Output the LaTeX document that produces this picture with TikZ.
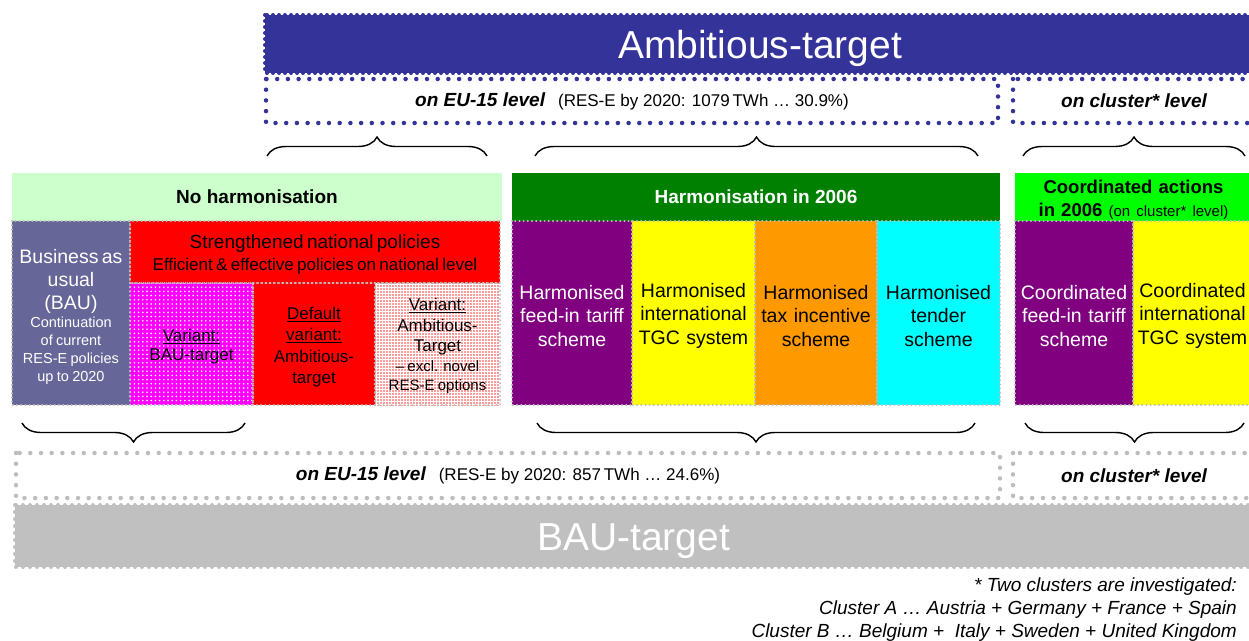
\documentclass[tikz,border=0pt]{standalone}
\usepackage{fontspec}
\setmainfont{Liberation Sans}
\usetikzlibrary{patterns.meta,decorations.pathreplacing}
\definecolor{ambblue}{HTML}{333399}
\definecolor{nohgreen}{HTML}{CCFFCC}
\definecolor{harmgreen}{HTML}{008000}
\definecolor{coordgreen}{HTML}{00FF00}
\definecolor{baupurple}{HTML}{666699}
\definecolor{cellred}{HTML}{FF0000}
\definecolor{cellmagenta}{HTML}{FF00FF}
\definecolor{cellpurple}{HTML}{800080}
\definecolor{cellyellow}{HTML}{FFFF00}
\definecolor{cellorange}{HTML}{FF9900}
\definecolor{cellcyan}{HTML}{00FFFF}
\definecolor{baugray}{HTML}{C0C0C0}
\definecolor{dotgray}{HTML}{BDBDBD}
\newcommand{\fs}[2]{\fontsize{#1}{#2}\selectfont}
\newcommand{\tp}[1]{\rule{0pt}{#1pt}}
\begin{document}
\begin{tikzpicture}[x=1pt,y=-1pt,
  box/.style={anchor=north west, inner sep=0pt, outer sep=0pt, align=center},
  ambdots/.style={draw=ambblue, line width=4pt, dash pattern=on 0pt off 6pt, line cap=round},
  blueframe/.style={draw=ambblue, line width=4.5pt, dash pattern=on 0pt off 10.7pt, line cap=round},
  grayframe/.style={draw=dotgray, line width=4.5pt, dash pattern=on 0pt off 10.7pt, line cap=round},
  baudots/.style={draw=baugray, line width=4pt, dash pattern=on 0pt off 7pt, line cap=round},
  cellborder/.style={draw=dotgray, line width=2.2pt, dash pattern=on 0pt off 4.2pt, line cap=round},
  bracestyle/.style={decorate, decoration={brace, amplitude=19pt}, line width=1.4pt, black},
  bracedown/.style={decorate, decoration={brace, amplitude=19pt, mirror}, line width=1.4pt, black},
  cell/.style={box, minimum height=184pt, text width=#1pt, minimum width=#1pt},
  harmtext/.style={font=\fs{19.5}{23.5}},
  bigtitle/.style={text=white, font=\fs{39}{45}, text height=28pt, text depth=0pt},
  headtitle/.style={font=\bfseries\fs{19}{23}, text height=13.7pt, text depth=0pt},
]
\useasboundingbox (0,0) rectangle (1249,640);
\fill[white] (0,0) rectangle (1249,640);

% ---------- top: Ambitious target ----------
\node[box, fill=ambblue, minimum width=990pt, minimum height=58pt, bigtitle] (amb) at (265,15) {Ambitious-target};
\draw[ambdots] (amb.north west) rectangle (amb.south east);

\node[box, fill=white, minimum width=732pt, minimum height=44pt] (eutop) at (266,79)
  {{\bfseries\itshape\fs{19}{23}on EU-15 level}\hspace{13pt}{\fs{17}{20}(RES-E by 2020: 1079\,TWh … 30.9\%)}};
\draw[blueframe] (eutop.north west) rectangle (eutop.south east);
\node[box, fill=white, minimum width=242pt, minimum height=44pt] (cltop) at (1013,79)
  {{\bfseries\itshape\fs{19}{23}on cluster* level}};
\draw[blueframe] (cltop.north west) rectangle (cltop.south east);

% top braces
\coordinate (tb1a) at (267,156); \coordinate (tb1b) at (487,156);
\coordinate (tb2a) at (535,156); \coordinate (tb2b) at (978,156);
\coordinate (tb3a) at (1023,156); \coordinate (tb3b) at (1245,156);
\draw[bracestyle] (tb1a) -- (tb1b);
\draw[bracestyle] (tb2a) -- (tb2b);
\draw[bracestyle] (tb3a) -- (tb3b);

% ---------- headers ----------
\node[box, fill=nohgreen, minimum width=490pt, minimum height=48pt, headtitle] (noh) at (12,173) {No harmonisation};
\node[box, fill=harmgreen, minimum width=488pt, minimum height=48pt, text=white, headtitle] (harm) at (512,173) {Harmonisation in 2006};
\node[box, fill=coordgreen, minimum width=237pt, minimum height=48pt, text width=237pt, font=\bfseries\fs{18.5}{22.5}] (coord) at (1015,173)
  {\tp{19.5}Coordinated actions\\in 2006 {\mdseries\fs{15}{18}(on cluster* level)}\par};

% ---------- no harmonisation cells ----------
\node[cell=118, fill=baupurple, text=white] (bau) at (12,221)
  {\fs{19.5}{23}\tp{22}Business as\\usual\\(BAU)\par\fs{14.5}{17.8}Continuation\\of current\\RES-E policies\\up to 2020\par};
\node[box, fill=cellred, minimum width=370pt, minimum height=62pt, text width=370pt] (strong) at (130,221)
  {\fs{19}{22}\tp{18}Strengthened national policies\par\fs{17}{22}Efficient \& effective policies on national level\par};
\node[box, minimum width=123pt, minimum height=122pt, text width=123pt,
      preaction={fill=cellmagenta}, pattern={Dots[radius=0.9pt,distance=4.2pt]}, pattern color=white] (varbau) at (130,283) {};
\node[box, text width=123pt] (varbaut) at ([yshift=-3pt]varbau.center) [anchor=center] {\fs{17}{19}\underline{Variant:}\\BAU-target\par};
\node[box, fill=cellred, minimum width=122pt, minimum height=122pt, text width=122pt] (default) at (253,283)
  {\fs{17}{21.5}\tp{19}\underline{Default}\\\underline{variant:}\\Ambitious-\\target\par};
\node[box, minimum width=125pt, minimum height=122pt, text width=125pt,
      preaction={fill=white}, pattern={Dots[radius=0.9pt,distance=3pt]}, pattern color=cellred!80] (varamb) at (375,283) {};
\node[box, text width=125pt] (varambt) at ([yshift=-2pt]varamb.center) [anchor=center]
  {\fs{17}{20.5}\underline{Variant:}\\Ambitious-\\Target\par\fs{15}{19.5}– excl. novel\\RES-E options\par};
\foreach \c in {bau,strong,varbau,default,varamb}
  \draw[cellborder] (\c.north west) rectangle (\c.south east);

% ---------- harmonisation cells ----------
\node[cell=120, fill=cellpurple, text=white, harmtext] (h1) at (512,221) {\tp{20}Harmonised\\feed-in tariff\\scheme\par};
\node[cell=123, fill=cellyellow, harmtext] (h2) at (632,221) {\tp{20}Harmonised\\international\\TGC system\par};
\node[cell=122, fill=cellorange, harmtext] (h3) at (755,221) {\tp{20}Harmonised\\tax incentive\\scheme\par};
\node[cell=123, fill=cellcyan, harmtext] (h4) at (877,221) {\tp{20}Harmonised\\tender\\scheme\par};
\node[cell=118, fill=cellpurple, text=white, harmtext] (c1) at (1015,221) {\tp{20}Coordinated\\feed-in tariff\\scheme\par};
\node[cell=119, fill=cellyellow, harmtext] (c2) at (1133,221) {\tp{20}Coordinated\\international\\TGC system\par};
\foreach \c in {h1,h2,h3,h4,c1,c2}
  \draw[cellborder] (\c.north west) rectangle (\c.south east);

% bottom braces
\coordinate (bb1a) at (22,423); \coordinate (bb1b) at (245,423);
\coordinate (bb2a) at (537,423); \coordinate (bb2b) at (975,423);
\coordinate (bb3a) at (1025,423); \coordinate (bb3b) at (1244,423);
\draw[bracedown] (bb1a) -- (bb1b);
\draw[bracedown] (bb2a) -- (bb2b);
\draw[bracedown] (bb3a) -- (bb3b);

% ---------- bottom: BAU target ----------
\node[box, fill=white, minimum width=984pt, minimum height=45pt] (eubot) at (16,453)
  {{\bfseries\itshape\fs{19}{23}on EU-15 level}\hspace{13pt}{\fs{17}{20}(RES-E by 2020: 857\,TWh … 24.6\%)}};
\draw[grayframe] (eubot.north west) rectangle (eubot.south east);
\node[box, fill=white, minimum width=242pt, minimum height=45pt] (clbot) at (1013,453)
  {{\bfseries\itshape\fs{19}{23}on cluster* level}};
\draw[grayframe] (clbot.north west) rectangle (clbot.south east);

\node[box, fill=baugray, minimum width=1237pt, minimum height=62pt, bigtitle] (baut) at (15,505) {BAU-target};
\draw[baudots] (baut.north west) rectangle (baut.south east);

% footnote
\node[anchor=north east, inner sep=0pt, align=right, font=\itshape\fs{19}{23}] (foot) at (1237,578)
  {* Two clusters are investigated:\\Cluster A … Austria + Germany + France + Spain\\Cluster B … Belgium +\ \ Italy + Sweden + United Kingdom};
\end{tikzpicture}
\end{document}
